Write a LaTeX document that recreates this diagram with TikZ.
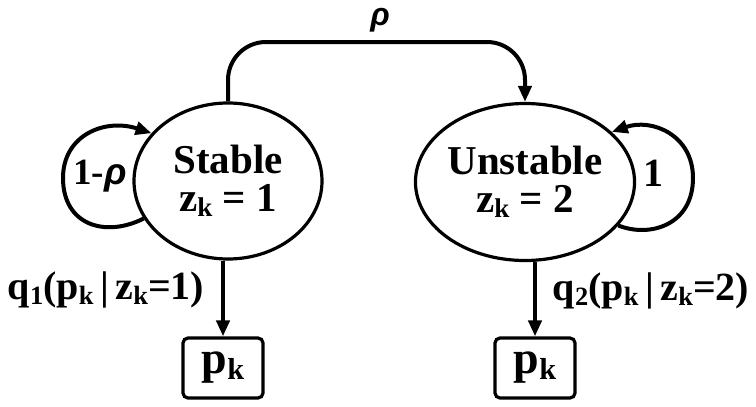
\documentclass[tikz,border=0pt]{standalone}
\usepackage{fontspec}
\setmainfont{Liberation Serif}
\newfontfamily\rhofont{Liberation Sans}
\usetikzlibrary{arrows.meta,shapes.geometric}
\newcommand{\lowsub}[1]{\raisebox{-0.12em}{\scalebox{0.66}{#1}}}
\newcommand{\myrho}{{\rhofont\bfseries\itshape ρ}}
\newcommand{\condbar}{\,|\,}
\tikzset{
  state/.style={ellipse,draw,line width=3.2pt,inner sep=0pt,align=center,font=\fontsize{41}{38}\selectfont\bfseries},
  obs/.style={draw,rounded corners=5pt,line width=3.2pt,minimum width=80pt,minimum height=60pt,inner sep=0pt,font=\fontsize{46}{48}\selectfont\bfseries},
  conn/.style={line width=4pt,-{Triangle[length=16pt,width=13pt]}},
  lab/.style={font=\fontsize{40}{42}\selectfont\bfseries,inner sep=0pt}
}
\begin{document}
\begin{tikzpicture}[x=1pt,y=-1pt]
\useasboundingbox (0,0) rectangle (756,407);
\node[state,minimum width=188pt,minimum height=156pt] (S) at (228,181) {Stable\\z\lowsub{k} = 1};
\node[state,minimum width=195pt,minimum height=157pt] (U) at (525,182) {Unstable\\z\lowsub{k} = 2};
\node[obs] (P1) at (223,368) {p\lowsub{k}};
\node[obs] (P2) at (535,368) {p\lowsub{k}};
\coordinate (top) at (380,42);
\draw[conn,rounded corners=38pt] (S.north) |- (top) -| (U.north);
\node[lab,font=\fontsize{32}{34}\selectfont] (rho) at (380,20) {\myrho};
\draw[conn] (S.204) .. controls (105,238) and (63,225) .. (63,178) .. controls (63,135) and (105,118) .. (S.148);
\draw[conn] (U.335) .. controls (650,238) and (693,225) .. (693,178) .. controls (693,135) and (652,118) .. (U.30);
\node[lab,font=\fontsize{37}{38}\selectfont\bfseries] (l1) at (100,176) {1-\myrho};
\node[lab] (l2) at (653,173) {1};
\draw[conn] (S.south -| P1) -- (P1.north);
\draw[conn] (U.south -| P2) -- (P2.north);
\node[lab] (q1) at (106,290) {q\lowsub{1}(p\lowsub{k}\condbar z\lowsub{k}=1)};
\node[lab] (q2) at (651,291) {q\lowsub{2}(p\lowsub{k}\condbar z\lowsub{k}=2)};
\end{tikzpicture}
\end{document}
